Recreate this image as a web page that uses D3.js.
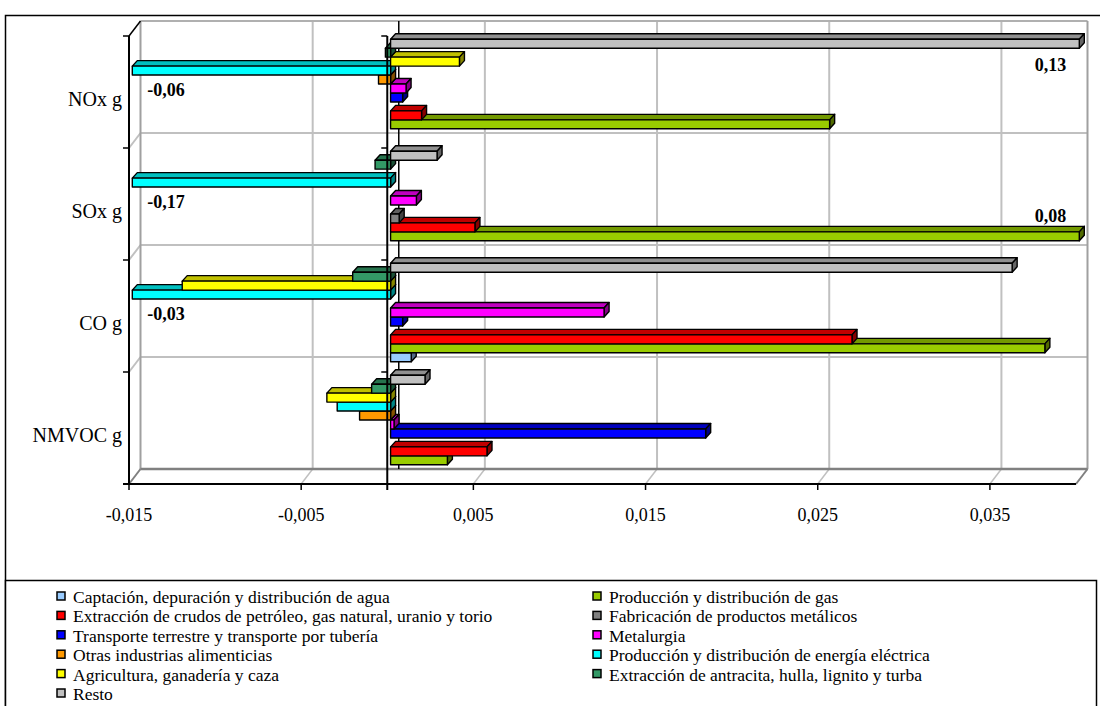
<!DOCTYPE html>
<html>
<head>
<meta charset="utf-8">
<script src="https://cdn.jsdelivr.net/npm/d3@7"></script>
<style>
  body { margin: 0; background: #fff; }
  svg { display: block; }
</style>
</head>
<body>
<svg id="chart" width="1100" height="706"></svg>
<script>
// Emissions per sector (g) for four pollutants
const categories = ["NOx g", "SOx g", "CO g", "NMVOC g"];
const tickValues = [-0.015, -0.005, 0.005, 0.015, 0.025, 0.035];

const seriesNames = [
  "Captación, depuración y distribución de agua",
  "Producción y distribución de gas",
  "Extracción de crudos de petróleo, gas natural, uranio y torio",
  "Fabricación de productos metálicos",
  "Transporte terrestre y transporte por tubería",
  "Metalurgia",
  "Otras industrias alimenticias",
  "Producción y distribución de energía eléctrica",
  "Agricultura, ganadería y caza",
  "Extracción de antracita, hulla, lignito y turba",
  "Resto"
];
const seriesColors = ["#99CCFF", "#99CC00", "#FF0000", "#808080", "#0000FF", "#FF00FF",
                      "#FF9900", "#00FFFF", "#FFFF00", "#339966", "#C0C0C0"];

// values per category: NOx, SOx, CO, NMVOC
const captacion           = [0,       0,       0.0012,  0];
const produccionGas       = [0.0255,  0.08,    0.038,   0.0033];
const extraccionCrudos    = [0.0018,  0.0049,  0.0268,  0.0056];
const fabricacionMetales  = [0,       0.0005,  0,       0];
const transporte          = [0.0007,  0,       0.0007,  0.0183];
const metalurgia          = [0.0009,  0.0015,  0.0124,  0.0002];
const otrasAlimenticias   = [-0.0007, 0,       0,       -0.0018];
const energiaElectrica    = [-0.06,   -0.17,   -0.03,   -0.0031];
const agricultura         = [0.004,   0,       -0.0121, -0.0037];
const extraccionAntracita = [-0.0003, -0.0009, -0.0022, -0.0011];
const resto               = [0.13,    0.0027,  0.0361,  0.002];

const seriesValues = [captacion, produccionGas, extraccionCrudos, fabricacionMetales,
  transporte, metalurgia, otrasAlimenticias, energiaElectrica, agricultura,
  extraccionAntracita, resto];

// bars whose value runs past the axis carry a label: [series index, category]
const labelledBars = [[7, "NOx g"], [10, "NOx g"], [7, "SOx g"], [1, "SOx g"], [7, "CO g"]];

const series = seriesNames.map((name, i) => ({
  name, color: seriesColors[i], index: i,
  values: categories.map((c, j) => ({ cat: c, v: seriesValues[i][j] }))
}));

const locale = d3.formatLocale({ decimal: ",", thousands: ".", grouping: [3], currency: ["", "€"], minus: "-" });
const fmtTick = locale.format(".3f");
const fmtLabel = locale.format(".2f");
const FONT = "'Liberation Serif', 'Times New Roman', serif";

const svg = d3.select("#chart").style("font-family", FONT);

// outer chart frame
svg.append("rect").attr("x", 5.5).attr("y", 15.5).attr("width", 1100).attr("height", 720)
  .attr("fill", "#fff").attr("stroke", "#000").attr("stroke-width", 1.5);

// front plane scales
const x = d3.scaleLinear().domain([-0.015, 0.04]).range([129, 1076]);
const y = d3.scaleBand().domain(categories).range([36, 484]);
const slot = d3.scaleBand().domain(d3.range(series.length).reverse())
  .range([0, y.bandwidth()]).paddingOuter(0.75);

const DX = 11.5, DY = -15;   // depth of the plot box
const FX = 3.3, FY = -3.5;   // bars sit slightly behind the front plane
const BX = 5, BY = -5.5;     // depth of each bar

const [xmin, xmax] = x.domain();
const clamp = v => Math.max(xmin, Math.min(xmax, v));
const x0 = x.range()[0], x1 = x.range()[1];
const yTop = y.range()[0], yBot = y.range()[1];
const bounds = categories.map(c => y(c)).concat([yBot]);

// ---- walls ----
const walls = svg.append("g");
walls.append("rect").attr("x", x0 + DX).attr("y", yTop + DY)
  .attr("width", x1 - x0).attr("height", yBot - yTop).attr("fill", "#fff");

walls.selectAll(".vg").data(tickValues.filter(t => t > xmin)).join("line")
  .attr("x1", d => x(d) + DX).attr("x2", d => x(d) + DX)
  .attr("y1", yTop + DY).attr("y2", yBot + DY)
  .attr("stroke", "#c0c0c0").attr("stroke-width", 2);
walls.selectAll(".hg").data(bounds.slice(1, -1)).join("line")
  .attr("x1", x0 + DX).attr("x2", x1 + DX).attr("y1", d => d + DY).attr("y2", d => d + DY)
  .attr("stroke", "#c0c0c0").attr("stroke-width", 2);
walls.selectAll(".sg").data(bounds.slice(1, -1)).join("line")
  .attr("x1", x0).attr("x2", x0 + DX).attr("y1", d => d).attr("y2", d => d + DY)
  .attr("stroke", "#c0c0c0").attr("stroke-width", 2);
walls.selectAll(".fg").data(tickValues.filter(t => t > xmin)).join("line")
  .attr("x1", d => x(d)).attr("x2", d => x(d) + DX).attr("y1", yBot).attr("y2", yBot + DY)
  .attr("stroke", "#c0c0c0").attr("stroke-width", 1.5);
const edge = (a, b, c, d, col, w) => walls.append("line")
  .attr("x1", a).attr("y1", b).attr("x2", c).attr("y2", d)
  .attr("stroke", col).attr("stroke-width", w);
edge(x0 + DX, yTop + DY, x1 + DX, yTop + DY, "#b0b0b0", 2);
edge(x1 + DX, yTop + DY, x1 + DX, yBot + DY, "#a0a0a0", 2);
edge(x0 + DX, yTop + DY, x0 + DX, yBot + DY, "#a0a0a0", 2);
edge(x0 + DX, yBot + DY, x1 + DX, yBot + DY, "#808080", 2.5);
edge(x0, yBot, x0 + DX, yBot + DY, "#808080", 2);
edge(x1, yBot, x1 + DX, yBot + DY, "#808080", 2);
edge(x0, yTop, x0 + DX, yTop + DY, "#000", 1.5);
edge(x(0) + DX, yTop + DY, x(0) + DX, yBot + DY, "#000", 1.5);

// ---- bars ----
const barsG = svg.append("g");
const faces = [];
categories.forEach(cat => {
  series.forEach(s => {   // bottom series first so upper bars cover lower tops
    const v = s.values.find(d => d.cat === cat).v;
    if (v === 0) return;
    const a = x(clamp(Math.min(0, v))) + FX, b = x(clamp(Math.max(0, v))) + FX;
    const t = y(cat) + slot(s.index) + FY, h = slot.bandwidth();
    faces.push({ s, v, cat, a, b, t, h });
  });
});
const bar = barsG.selectAll("g").data(faces).join("g")
  .attr("stroke", "#000").attr("stroke-width", 1.4).attr("stroke-linejoin", "round");
bar.append("polygon")
  .attr("points", d => [[d.a, d.t], [d.b, d.t], [d.b + BX, d.t + BY], [d.a + BX, d.t + BY]].join(" "))
  .attr("fill", d => d3.color(d.s.color).darker(0.8));
bar.append("polygon")
  .attr("points", d => [[d.b, d.t], [d.b + BX, d.t + BY], [d.b + BX, d.t + d.h + BY], [d.b, d.t + d.h]].join(" "))
  .attr("fill", d => d3.color(d.s.color).darker(1.8));
bar.append("rect")
  .attr("x", d => d.a).attr("y", d => d.t).attr("width", d => d.b - d.a).attr("height", d => d.h)
  .attr("fill", d => d.s.color);

// ---- axes on the front plane ----
const axes = svg.append("g").attr("stroke", "#000");
axes.append("line").attr("x1", x0).attr("x2", x0).attr("y1", yTop).attr("y2", yBot).attr("stroke-width", 2);
axes.selectAll(".lt").data(bounds).join("line")
  .attr("x1", x0 - 6).attr("x2", x0).attr("y1", d => d).attr("y2", d => d).attr("stroke-width", 1.5);
axes.append("line").attr("x1", x0 - 6).attr("x2", x1).attr("y1", yBot).attr("y2", yBot).attr("stroke-width", 2);
axes.selectAll(".bt").data(tickValues).join("line")
  .attr("x1", d => x(d)).attr("x2", d => x(d)).attr("y1", yBot).attr("y2", yBot + 6).attr("stroke-width", 1.5);
axes.append("line").attr("x1", x(0)).attr("x2", x(0)).attr("y1", yTop).attr("y2", yBot + 6).attr("stroke-width", 2);
axes.selectAll(".zt").data(bounds).join("line")
  .attr("x1", x(0) - 6).attr("x2", x(0)).attr("y1", d => d).attr("y2", d => d).attr("stroke-width", 1.5);

// tick labels
svg.append("g").selectAll("text").data(tickValues).join("text")
  .attr("x", d => x(d)).attr("y", yBot + 37).attr("text-anchor", "middle")
  .style("font-family", FONT).attr("font-size", 18).text(d => fmtTick(d));

// category labels
svg.append("g").selectAll("text").data(categories).join("text")
  .attr("x", x0 - 7).attr("y", d => y(d) + y.bandwidth() / 2 + 14).attr("text-anchor", "end")
  .style("font-family", FONT).attr("font-size", 20).text(d => d);

// value labels for bars running off the axis
svg.append("g").selectAll("text").data(labelledBars).join("text")
  .each(function ([si, cat]) {
    const f = faces.find(d => d.s.index === si && d.cat === cat);
    const neg = f.v < 0;
    const sel = d3.select(this).style("font-family", FONT).attr("font-size", 18)
      .attr("font-weight", "bold").text(fmtLabel(f.v));
    if (neg) {
      sel.attr("x", f.a + 15).attr("y", f.t + f.h / 2 + 25).attr("text-anchor", "start");
    } else {
      const below = cat === "NOx g";
      sel.attr("x", f.b - 13).attr("y", f.t + f.h / 2 + (below ? 27 : -14)).attr("text-anchor", "end");
    }
  });

// ---- legend ----
const legendTop = 580;
svg.append("rect").attr("x", 5.5).attr("y", legendTop + 0.5).attr("width", 1091).attr("height", 200)
  .attr("fill", "#fff").attr("stroke", "#000").attr("stroke-width", 1.5);
const colX = [57, 593];
const rowH = 19.4;
const leg = svg.append("g").selectAll("g").data(series).join("g")
  .attr("transform", (d, i) => `translate(${colX[i % 2]},${legendTop + 18 + Math.floor(i / 2) * rowH})`);
leg.append("rect").attr("x", 0).attr("y", -6).attr("width", 8).attr("height", 8)
  .attr("fill", d => d.color).attr("stroke", "#000").attr("stroke-width", 1.5);
leg.append("text").attr("x", 16).attr("y", 5).style("font-family", FONT).attr("font-size", 17.5).text(d => d.name);
</script>
</body>
</html>
